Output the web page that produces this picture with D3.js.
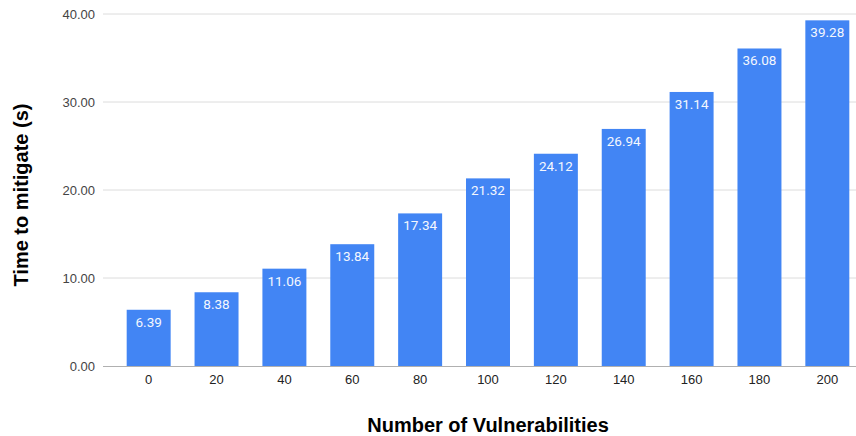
<!DOCTYPE html>
<html>
<head>
<meta charset="utf-8">
<script src="https://cdn.jsdelivr.net/npm/d3@7"></script>
<style>
  html, body { margin: 0; padding: 0; background: #fff; }
  svg { display: block; }
</style>
</head>
<body>
<svg id="chart" width="856" height="436"></svg>
<script>
// Mitigation time by number of vulnerabilities
const categories = ["0", "20", "40", "60", "80", "100", "120", "140", "160", "180", "200"];
const times = [6.39, 8.38, 11.06, 13.84, 17.34, 21.32, 24.12, 26.94, 31.14, 36.08, 39.28];
const yTicks = [0, 10, 20, 30, 40];

const svg = d3.select("#chart");
const plotLeft = 103, plotRight = 856, plotTop = 14, plotBottom = 366;

const x = d3.scaleBand()
  .domain(categories)
  .range([plotLeft, 873])
  .paddingInner(0.352)
  .paddingOuter(0.349);

const y = d3.scaleLinear().domain([0, 40]).range([plotBottom, plotTop]);

// horizontal gridlines
svg.append("g")
  .selectAll("line")
  .data(yTicks.filter(d => d !== 0))
  .join("line")
  .attr("x1", plotLeft).attr("x2", plotRight)
  .attr("y1", d => y(d)).attr("y2", d => y(d))
  .attr("stroke", "#dcdcdc").attr("stroke-width", 1);

// y tick labels
svg.append("g")
  .selectAll("text")
  .data(yTicks)
  .join("text")
  .attr("x", 95)
  .attr("y", d => y(d))
  .attr("dy", "0.35em")
  .attr("text-anchor", "end")
  .attr("font-family", "Liberation Sans, Arial, sans-serif")
  .attr("font-size", 13)
  .attr("fill", "#444")
  .text(d => d3.format(".2f")(d));

// bars
svg.append("g")
  .selectAll("rect")
  .data(categories)
  .join("rect")
  .attr("x", d => x(d))
  .attr("width", x.bandwidth())
  .attr("y", (d, i) => y(times[i]))
  .attr("height", (d, i) => y(0) - y(times[i]))
  .attr("fill", "#4285f4");

// value labels inside bars
svg.append("g")
  .selectAll("text")
  .data(categories)
  .join("text")
  .attr("x", d => x(d) + x.bandwidth() / 2)
  .attr("y", (d, i) => y(times[i]) + 17)
  .attr("text-anchor", "middle")
  .attr("font-family", "Roboto, sans-serif")
  .attr("font-size", 13.5)
  .attr("fill", "#f4f7fe")
  .text((d, i) => times[i].toFixed(2));

// baseline
svg.append("line")
  .attr("x1", plotLeft).attr("x2", plotRight)
  .attr("y1", y(0) + 0.5).attr("y2", y(0) + 0.5)
  .attr("stroke", "#b0b0b0").attr("stroke-width", 1);

// x tick labels
svg.append("g")
  .selectAll("text")
  .data(categories)
  .join("text")
  .attr("x", d => x(d) + x.bandwidth() / 2)
  .attr("y", 384)
  .attr("text-anchor", "middle")
  .attr("font-family", "Liberation Sans, Arial, sans-serif")
  .attr("font-size", 13)
  .attr("fill", "#222")
  .text(d => d);

// axis titles
svg.append("text")
  .attr("x", 488).attr("y", 432)
  .attr("text-anchor", "middle")
  .attr("font-family", "Liberation Sans, Arial, sans-serif")
  .attr("font-weight", "bold")
  .attr("font-size", 20)
  .attr("fill", "#000")
  .text("Number of Vulnerabilities");

svg.append("text")
  .attr("transform", "translate(28,195) rotate(-90)")
  .attr("text-anchor", "middle")
  .attr("font-family", "Liberation Sans, Arial, sans-serif")
  .attr("font-weight", "bold")
  .attr("font-size", 20)
  .attr("fill", "#000")
  .text("Time to mitigate (s)");
</script>
</body>
</html>
